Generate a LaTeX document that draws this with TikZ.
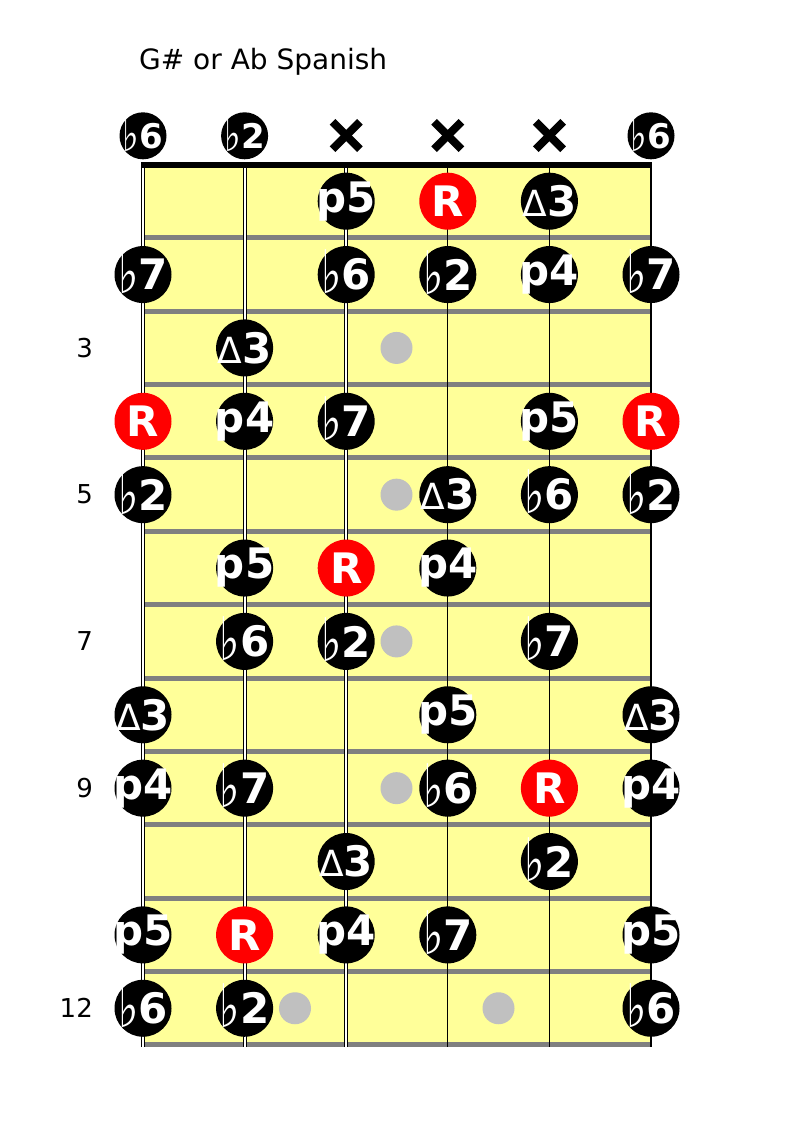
\documentclass[tikz,border=0pt]{standalone}
\usepackage{fontspec}
\setmainfont{DejaVu Sans}
\newfontfamily\symf{DejaVu Sans}
\definecolor{board}{RGB}{255,255,153}
\definecolor{fretgray}{RGB}{128,128,128}
\definecolor{dotgray}{RGB}{192,192,192}
\definecolor{rootred}{RGB}{255,0,0}
\newcommand\flt{{\symf\mdseries\fontsize{60}{60}\selectfont\raisebox{-4pt}[0pt][0pt]{\scalebox{0.72}[1]{♭}}}}
\newcommand\oflt{{\symf\mdseries\fontsize{49}{49}\selectfont\raisebox{-3pt}[0pt][0pt]{\scalebox{0.72}[1]{♭}}}}
\newcommand\trg{{\mdseries\fontsize{36}{36}\selectfont Δ}}
\begin{document}
\begin{tikzpicture}[x=1pt,y=-1pt,
  fretline/.style={draw=fretgray, line width=5pt},
  thickstring/.style={draw=black, line width=1pt, double=white, double distance=2.2pt},
  thinstring/.style={draw=black, line width=1.1pt},
  notedisc/.style={circle, inner sep=0pt, minimum size=57pt},
  opendisc/.style={circle, inner sep=0pt, minimum size=47pt, fill=black},
  notetext/.style={inner sep=0pt, text=white, font=\fontsize{42}{42}\selectfont\bfseries},
  opentext/.style={inner sep=0pt, text=white, font=\fontsize{34}{34}\selectfont\bfseries},
  markdot/.style={circle, inner sep=0pt, minimum size=32pt, fill=dotgray},
  fretnum/.style={anchor=east, inner sep=0pt, font=\fontsize{26}{26}\selectfont},
  xbox/.style={inner sep=0pt, minimum size=27pt},
  xmark/.style={line width=8pt}
]
\useasboundingbox (0,0) rectangle (792,1122);
% board
\node[fill=board, draw=none, inner sep=0pt, minimum width=508pt, minimum height=879pt, anchor=north west] (board) at (143,168) {};
% frets
\foreach \k in {1,...,12} {
  \coordinate (fl\k) at (145,{164.5+73.37*\k});
  \coordinate (fr\k) at (651,{164.5+73.37*\k});
  \draw[fretline] (fl\k) -- (fr\k);
}
% strings
\foreach \s in {1,...,6} {
  \coordinate (st\s) at ({143+(\s-1)*101.6},162);
  \coordinate (sb\s) at ({143+(\s-1)*101.6},1047);
}
\foreach \s in {1,2,3} \draw[thickstring] (st\s) -- (sb\s);
\foreach \s in {4,5,6} \draw[thinstring] (st\s) -- (sb\s);
% nut
\coordinate (nutl) at (141,165);
\coordinate (nutr) at (651.5,165);
\draw[line width=5.5pt] (nutl) -- (nutr);
% position dots
\foreach \f in {3,5,7,9} \node[markdot] (d\f) at (396.5,{164.5+73.37*(\f-0.5)}) {};
\node[markdot] (d12a) at (295,{164.5+73.37*11.5}) {};
\node[markdot] (d12b) at (498.5,{164.5+73.37*11.5}) {};
% fret numbers
\foreach \f in {3,5,7,9,12} \node[fretnum] (fn\f) at (93,{164.5+73.37*(\f-0.5)}) {\f};
% title
\node[anchor=base west, inner sep=0pt, font=\fontsize{28}{28}\selectfont] (title) at (139,69) {G\# or Ab Spanish};
% open strings
\foreach \s/\t in {1/\oflt6, 2/\oflt2, 6/\oflt6} {
  \node[opendisc] (o\s) at ({143+(\s-1)*101.6},135.8) {};
  \node[opentext] (ot\s) at (o\s) {\t};
}
\foreach \s in {3,4,5} {
  \node[xbox] (x\s) at ({143+(\s-1)*101.6},135.5) {};
  \draw[xmark] (x\s.north west) -- (x\s.south east);
  \draw[xmark] (x\s.south west) -- (x\s.north east);
}
% fretted notes
\foreach \f/\s/\t/\c in {
  1/3/p5/black, 1/4/R/rootred, 1/5/\trg3/black,
  2/1/\flt7/black, 2/3/\flt6/black, 2/4/\flt2/black, 2/5/p4/black, 2/6/\flt7/black,
  3/2/\trg3/black,
  4/1/R/rootred, 4/2/p4/black, 4/3/\flt7/black, 4/5/p5/black, 4/6/R/rootred,
  5/1/\flt2/black, 5/4/\trg3/black, 5/5/\flt6/black, 5/6/\flt2/black,
  6/2/p5/black, 6/3/R/rootred, 6/4/p4/black,
  7/2/\flt6/black, 7/3/\flt2/black, 7/5/\flt7/black,
  8/1/\trg3/black, 8/4/p5/black, 8/6/\trg3/black,
  9/1/p4/black, 9/2/\flt7/black, 9/4/\flt6/black, 9/5/R/rootred, 9/6/p4/black,
  10/3/\trg3/black, 10/5/\flt2/black,
  11/1/p5/black, 11/2/R/rootred, 11/3/p4/black, 11/4/\flt7/black, 11/6/p5/black,
  12/1/\flt6/black, 12/2/\flt2/black, 12/6/\flt6/black} {
  \node[notedisc, fill=\c] (n\f-\s) at ({143+(\s-1)*101.6},{164.5+73.37*(\f-0.5)}) {};
  \node[notetext] (t\f-\s) at (n\f-\s) {\t};
}
\end{tikzpicture}
\end{document}
